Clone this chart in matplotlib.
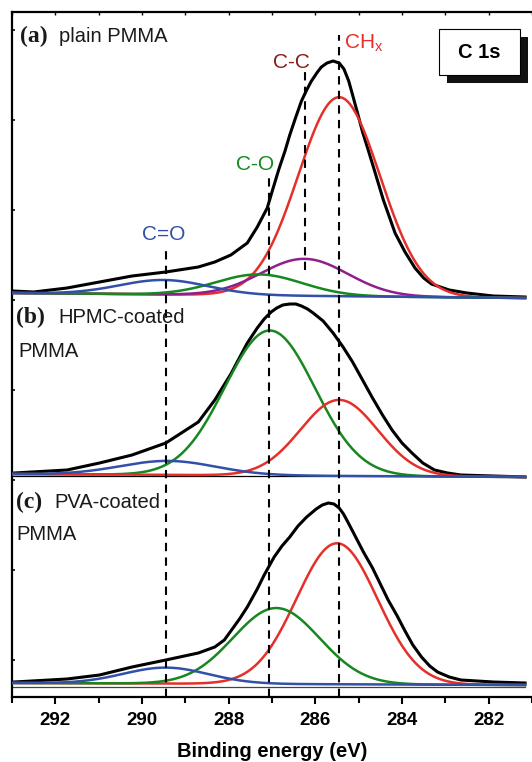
import matplotlib
matplotlib.use("Agg")
import matplotlib.pyplot as plt
import numpy as np
from matplotlib.patches import Rectangle

W, H = 532, 762
SANS = "Liberation Sans"
SERIF = "Liberation Serif"

# measured C 1s envelopes (binding energy in eV, stacked intensity in a.u.)
E_A = [292.98, 292.50, 291.73, 290.98, 290.23, 289.45, 288.70, 288.32, 287.95, 287.57,
       287.34, 287.11, 286.98, 286.84, 286.70, 286.59, 286.45, 286.32, 286.20, 286.09,
       285.95, 285.86, 285.73, 285.59, 285.45, 285.34, 285.23, 285.14, 285.02, 284.91,
       284.78, 284.66, 284.43, 284.16, 283.93, 283.70, 283.50, 283.32, 282.91, 282.50,
       281.89, 281.16]
I_A = [406, 405, 409, 415, 421, 425, 430, 435, 442, 454,
       470, 489, 508, 528, 546, 562, 580, 596, 607, 616,
       625, 630, 634, 636, 634, 628, 616, 602, 583, 565,
       547, 530, 497, 464, 445, 429, 419, 413, 407, 404,
       401, 400]

E_B = [292.95, 291.73, 290.98, 290.23, 289.45, 288.70, 288.32, 287.95, 287.57, 287.34,
       287.18, 287.02, 286.89, 286.75, 286.59, 286.45, 286.32, 286.18, 286.05, 285.82,
       285.59, 285.36, 285.14, 284.91, 284.68, 284.45, 284.23, 284.00, 283.77, 283.52,
       283.25, 282.95, 282.64, 281.89, 281.16]
I_B = [224, 227, 234, 242, 254, 275, 297, 323, 354, 369,
       378, 385, 389, 392, 393, 393, 391, 388, 384, 376,
       364, 350, 335, 317, 299, 282, 267, 254, 244, 234,
       227, 224, 222, 221, 220]

E_C = [292.95, 291.73, 290.98, 290.23, 289.45, 288.70, 288.32, 288.10, 287.95, 287.75,
       287.57, 287.34, 287.18, 286.95, 286.77, 286.59, 286.40, 286.20, 285.98, 285.84,
       285.70, 285.57, 285.45, 285.35, 285.25, 285.07, 284.89, 284.68, 284.50, 284.32,
       284.11, 283.93, 283.75, 283.55, 283.36, 283.18, 282.91, 282.64, 281.89, 281.16]
I_C = [15, 18, 22, 30, 37, 44, 50, 57, 66, 78,
       90, 108, 122, 140, 151, 160, 171, 180, 188, 192,
       194, 193, 189, 183, 175, 160, 145, 129, 113, 97,
       81, 66, 52, 40, 31, 25, 20, 17, 15, 14]

# fitted components: centre (eV), height (a.u.), FWHM (eV)
COMP_A = {"CHx": (285.45, 199, 2.22), "C-C": (286.25, 37, 2.35),
          "C-O": (287.30, 21, 2.35), "C=O": (289.50, 14.5, 2.4)}
COMP_B = {"C-O": (287.05, 145, 2.45), "CHx": (285.45, 76, 2.1), "C=O": (289.40, 14, 2.6)}
COMP_C = {"CHx": (285.50, 141, 2.2), "C-O": (286.90, 76, 2.35), "C=O": (289.45, 16, 2.3)}

# linear background of each spectrum (value at 293 eV, value at 281.16 eV)
BASE_A = (404, 399)
BASE_B = (223, 220)
BASE_C = (14, 12)

# peak assignment lines (eV)
PEAK_E = {"C=O": 289.45, "C-O": 287.07, "C-C": 286.25, "CHx": 285.45}

COLORS = {"CHx": "#e5302a", "C-C": "#8e1f8e", "C-O": "#17871f", "C=O": "#3250a8"}


def px(x, y):
    """pixel position in the 532x762 canvas -> figure fraction"""
    return x / W, 1 - y / H


def gauss(e, c, h, w):
    s = w / (2 * np.sqrt(2 * np.log(2)))
    return h * np.exp(-(e - c) ** 2 / (2 * s ** 2))


fig = plt.figure(figsize=(W / 100, H / 100), dpi=100)
ax = fig.add_axes([12 / W, 65 / H, 1 - 12 / W, 685 / H])
ax.set_xlim(293, 281.16)
ax.set_ylim(0, 685)

e = np.linspace(293, 281.16, 600)
for E, I, comps, base in [(E_A, I_A, COMP_A, BASE_A), (E_B, I_B, COMP_B, BASE_B),
                          (E_C, I_C, COMP_C, BASE_C)]:
    bg = base[0] + (base[1] - base[0]) * (293 - e) / (293 - 281.16)
    ax.plot(E, I, color="black", lw=2.2, zorder=3, solid_joinstyle="round")
    for name, (c, h, w) in comps.items():
        ax.plot(e, bg + gauss(e, c, h, w), color=COLORS[name], lw=1.8, zorder=4)

ax.plot([293, 281.16], [BASE_B[1] + 1, BASE_B[1] + 1], color="black", lw=0.9, zorder=2)
ax.plot([293, 281.16], [10, 10], color="#444444", lw=0.9, zorder=2)

# dashed assignment lines: (top, bottom) in a.u.
spans = {"C=O": (452, 0), "C-O": (519, 0), "C-C": (625, 427), "CHx": (662, 0)}
for name, E0 in PEAK_E.items():
    top, bot = spans[name]
    ax.plot([E0, E0], [bot, top], color="black", lw=1.5, ls=(0, (4, 3)), zorder=5)

lab_kw = dict(fontsize=15, family=SANS, va="baseline")
ax.text(289.50, 697 - 240, "C=O", color=COLORS["C=O"], ha="center", **lab_kw)
ax.text(287.40, 697 - 170, "C-O", color=COLORS["C-O"], ha="center", **lab_kw)
ax.text(286.55, 697 - 68, "C-C", color="#8b1a1a", ha="center", **lab_kw)
ax.text(285.34, 697 - 48, "CH$_\\mathregular{x}$", color=COLORS["CHx"], ha="left", **lab_kw)

# panel labels
for x0, y0, tag in [(20, 42, "(a)"), (16, 323, "(b)"), (16, 508, "(c)")]:
    fig.text(*px(x0, y0), tag, fontsize=17, family=SERIF, weight="bold", va="baseline",
             color="#1a1a1a")
for x0, y0, txt in [(59, 42, "plain PMMA"), (58, 323, "HPMC-coated"), (18, 357, "PMMA"),
                    (54, 508, "PVA-coated"), (16, 540, "PMMA")]:
    fig.text(*px(x0, y0), txt, fontsize=14.5, family=SANS, va="baseline", color="#1a1a1a")

# "C 1s" box with drop shadow
fig.add_artist(Rectangle(px(447, 83), 81 / W, 46 / H, transform=fig.transFigure,
                         facecolor="#111111", edgecolor="none", zorder=10))
fig.add_artist(Rectangle(px(439, 75), 81 / W, 46 / H, transform=fig.transFigure,
                         facecolor="white", edgecolor="black", lw=0.8, zorder=11))
fig.text(*px(479.5, 52), "C 1s", fontsize=14.5, family=SANS, weight="bold",
         ha="center", va="center", zorder=12)

# axes styling
for side in ["left", "bottom", "top"]:
    ax.spines[side].set_linewidth(1.6)
ax.spines["right"].set_visible(False)
ax.set_xticks(np.arange(282, 293, 2))
ax.set_xticks(np.arange(281, 294, 1), minor=True)
ax.set_yticks(np.arange(37, 685, 90))
ax.set_yticklabels([])
ax.tick_params(axis="x", which="major", direction="out", length=5, width=1.5, pad=6,
               labelsize=13.5)
ax.tick_params(axis="x", which="minor", direction="out", length=4, width=1.5)
ax.tick_params(axis="y", direction="in", length=2.5, width=1.2)
for t in ax.get_xticklabels():
    t.set_family(SANS)
    t.set_weight("bold")

top = ax.secondary_xaxis("top")
top.set_xticks(np.arange(281, 294, 1))
top.set_xticklabels([])
top.tick_params(direction="in", length=2.5, width=1.0)
top.spines["top"].set_visible(False)

ax.set_xlabel("Binding energy (eV)", fontsize=14.5, family=SANS, weight="bold", labelpad=9)

fig.savefig("out.png", dpi=100)
